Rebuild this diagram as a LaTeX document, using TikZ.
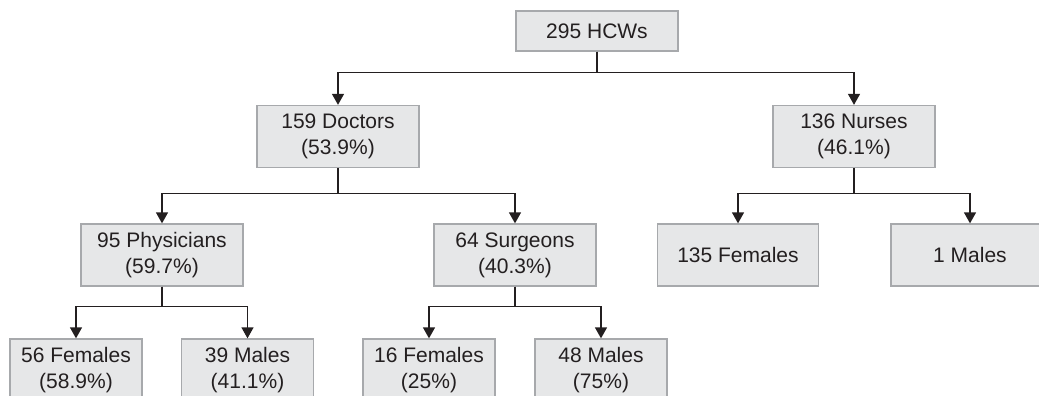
\documentclass[tikz,border=0pt]{standalone}
\usepackage{fontspec}
\setmainfont{Liberation Sans}
\usepackage{tikz}
\usetikzlibrary{arrows.meta,positioning}
\definecolor{boxfill}{RGB}{230,231,232}
\definecolor{boxline}{RGB}{167,169,172}
\definecolor{inkgrey}{RGB}{35,31,32}
\tikzstyle{group} = [rectangle, draw=boxline, fill=boxfill, line width=1.3pt, inner sep=0pt, align=center, text=inkgrey, font=\fontsize{21}{26}\selectfont]
\tikzstyle{topbox} = [group, minimum width=162pt, minimum height=40pt]
\tikzstyle{midbox} = [group, minimum width=162pt, minimum height=62pt]
\tikzstyle{leafbox} = [group, minimum width=132pt, minimum height=62pt]
\tikzstyle{arrow} = [line width=1.3pt, draw=inkgrey, -{Triangle[width=12pt,length=11pt]}, inkgrey]

\begin{document}
\begin{tikzpicture}[x=1pt, y=-1pt]
\useasboundingbox (0,0) rectangle (1039,396);
\clip (0,0) rectangle (1039,396);
\node (hcw) [topbox] at (597,31) {295 HCWs};
\node (doc) [midbox] at (338,136.5) {159 Doctors\\(53.9\%)};
\node (nur) [midbox] at (854,136.5) {136 Nurses\\(46.1\%)};
\node (phys) [midbox] at (162,255) {95 Physicians\\(59.7\%)};
\node (surg) [midbox] at (515,255) {64 Surgeons\\(40.3\%)};
\node (nfem) [midbox, minimum width=161pt] at (738,255) {135 Females};
\node (nmal) [midbox, minimum width=158pt] at (970,255) {1 Males};
\node (pfem) [leafbox] at (76,370) {56 Females\\(58.9\%)};
\node (pmal) [leafbox] at (247.5,370) {39 Males\\(41.1\%)};
\node (sfem) [leafbox] at (429,370) {16 Females\\(25\%)};
\node (smal) [leafbox] at (601,370) {48 Males\\(75\%)};
% connectors
\draw[arrow] (hcw.south) -- ++(0,21) -| (doc.north);
\draw[arrow] (hcw.south) -- ++(0,21) -| (nur.north);
\draw[arrow] (doc.south) -- ++(0,25) -| (phys.north);
\draw[arrow] (doc.south) -- ++(0,25) -| (surg.north);
\draw[arrow] (nur.south) -- ++(0,25) -| (nfem.north);
\draw[arrow] (nur.south) -- ++(0,25) -| (nmal.north);
\draw[arrow] (phys.south) -- ++(0,20) -| (pfem.north);
\draw[arrow] (phys.south) -- ++(0,20) -| (pmal.north);
\draw[arrow] (surg.south) -- ++(0,20) -| (sfem.north);
\draw[arrow] (surg.south) -- ++(0,20) -| (smal.north);
\end{tikzpicture}
\end{document}
